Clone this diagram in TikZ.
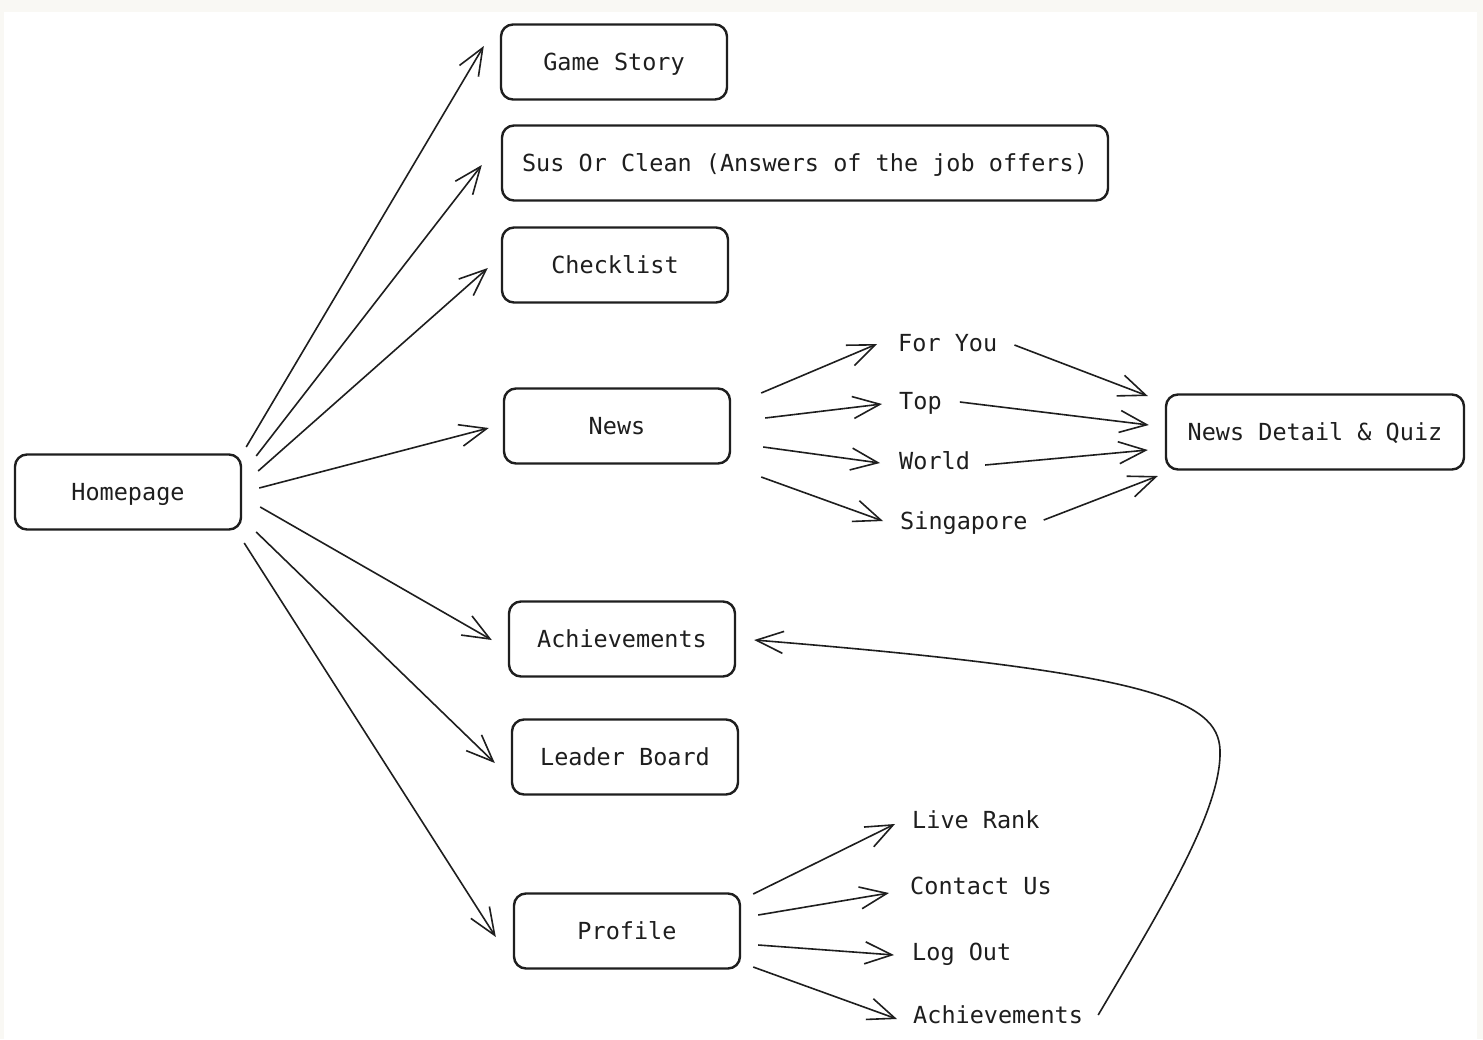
\documentclass[tikz,border=0pt]{standalone}
\usepackage{fontspec}
\newfontfamily\handfont{DejaVu Sans Mono}
\usetikzlibrary{arrows.meta,calc}
\definecolor{paper}{RGB}{249,248,244}
\definecolor{ink}{RGB}{30,30,30}

\begin{document}
\begin{tikzpicture}[
    x=1pt, y=-1pt,
    box/.style={draw=ink, line width=2.4pt, rounded corners=12pt, minimum width=226pt, minimum height=75pt, text height=17pt, text depth=0pt, text=ink, font=\handfont\fontsize{23.5pt}{28pt}\selectfont},
    lbl/.style={anchor=west, inner sep=0pt, text height=17pt, text depth=0pt, text=ink, font=\handfont\fontsize{23.5pt}{28pt}\selectfont},
    arr/.style={draw=ink, line width=1.6pt, -{Straight Barb[length=27pt, width=22pt]}}
  ]

    % Page background (pixel grid, y downwards)
    \useasboundingbox (0,0) rectangle (1483,1039);
    \fill[paper] (0,0) rectangle (1483,1039);
    \fill[white] (4,12) rectangle (1477,1039);

    % Main screens
    \node[box] (home) at (128, 492) {Homepage};
    \node[box] (game) at (614, 62) {Game Story};
    \node[box, minimum width=606pt] (sus) at (805, 163) {Sus Or Clean (Answers of the job offers)};
    \node[box] (check) at (615, 265) {Checklist};
    \node[box] (news) at (617, 426) {News};
    \node[box] (ach) at (622, 639) {Achievements};
    \node[box] (leader) at (625, 757) {Leader Board};
    \node[box] (profile) at (627, 931) {Profile};
    \node[box, minimum width=298pt] (detail) at (1315, 432) {News Detail \& Quiz};

    % News tabs
    \node[lbl] (foryou) at (898, 343) {For You};
    \node[lbl] (top) at (899, 401) {Top};
    \node[lbl] (world) at (899, 461) {World};
    \node[lbl] (sg) at (900, 521) {Singapore};

    % Profile entries
    \node[lbl] (rank) at (912, 820) {Live Rank};
    \node[lbl] (contact) at (910, 886) {Contact Us};
    \node[lbl] (logout) at (912, 952) {Log Out};
    \node[lbl] (ach2) at (913, 1015) {Achievements};

    % Homepage fan-out
    \draw[arr] ($(home.east)+(4,-45)$) -- ($(game.west)+(-16,-16)$);
    \draw[arr] ($(home.east)+(14,-36)$) -- ($(sus.west)+(-19,2)$);
    \draw[arr] ($(home.east)+(16,-21)$) -- ($(check.west)+(-13,3)$);
    \draw[arr] ($(home.east)+(17,-4)$) -- ($(news.west)+(-14,2)$);
    \draw[arr] ($(home.east)+(18,15)$) -- ($(ach.west)+(-16,1)$);
    \draw[arr] ($(home.east)+(14,40)$) -- ($(leader.west)+(-16,6)$);
    \draw[arr] ($(home.east)+(2,51)$) -- ($(profile.west)+(-17,6)$);

    % News -> tabs -> detail
    \draw[arr] ($(news.east)+(30,-33)$) -- ($(foryou.west)+(-21,1)$);
    \draw[arr] ($(news.east)+(34,-8)$) -- ($(top.west)+(-17,3)$);
    \draw[arr] ($(news.east)+(32,21)$) -- ($(world.west)+(-19,2)$);
    \draw[arr] ($(news.east)+(30,51)$) -- ($(sg.west)+(-17,0)$);
    \draw[arr] ($(foryou.east)+(17,2)$) -- ($(detail.west)+(-17,-36)$);
    \draw[arr] ($(top.east)+(18,1)$) -- ($(detail.west)+(-16,-7)$);
    \draw[arr] ($(world.east)+(15,4)$) -- ($(detail.west)+(-17,18)$);
    \draw[arr] ($(sg.east)+(16,-1)$) -- ($(detail.west)+(-7,44)$);

    % Profile -> entries
    \draw[arr] ($(profile.east)+(12,-37)$) -- ($(rank.west)+(-17,4)$);
    \draw[arr] ($(profile.east)+(17,-16)$) -- ($(contact.west)+(-21,7)$);
    \draw[arr] ($(profile.east)+(17,14)$) -- ($(logout.west)+(-18,3)$);
    \draw[arr] ($(profile.east)+(12,36)$) -- ($(ach2.west)+(-16,4)$);

    % Achievements entry loops back
    \draw[arr] ($(ach2.east)+(15,0)$) .. controls (1160, 910) and (1222, 810) .. (1220, 750)
      .. controls (1218, 700) and (1150, 672) .. ($(ach.east)+(18,1)$);

  \end{tikzpicture}
\end{document}
